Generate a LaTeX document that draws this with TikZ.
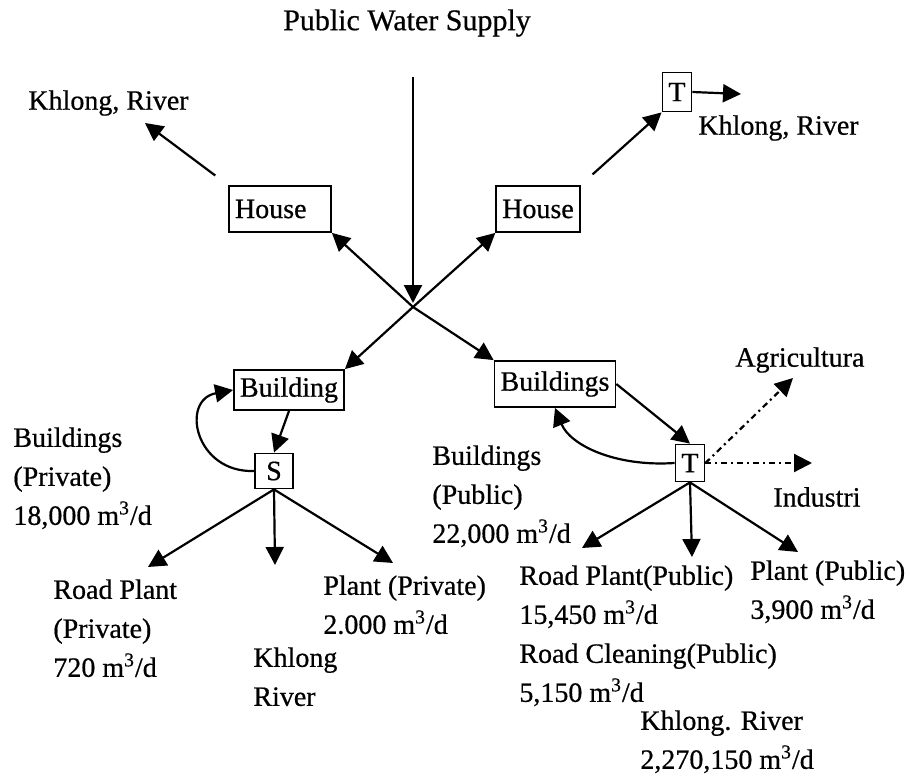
\documentclass[tikz,border=0pt]{standalone}
\usepackage{fontspec}
\setmainfont[FakeBold=0.6]{Liberation Serif}
\usetikzlibrary{positioning,arrows.meta}

\begin{document}
\begin{tikzpicture}
  [x=0.5pt,y=-0.5pt,
   every node/.style={font=\fontsize{14}{19.5}\selectfont},
   box/.style={draw,line width=0.9pt,inner xsep=3pt,inner ysep=0pt},
   lbl/.style={inner sep=0pt,align=left,anchor=north west},
   flow/.style={line width=1.1pt,-{Triangle[length=9pt,width=9pt]}},
   side/.style={flow,dash pattern=on 3pt off 2pt on 1pt off 2pt}]
  \useasboundingbox (0,0) rectangle (911,781);

  \node[font=\fontsize{15}{18}\selectfont] (title) at (407,23) {Public Water Supply};
  \coordinate (top) at (413,77);
  \coordinate (mid) at (413,307);

  \node[box,minimum width=51pt,minimum height=23pt,text width=45pt,align=left] (houseL) at (280,209) {House};
  \node[box,minimum height=23pt] (houseR) at (538,209) {House};
  \node[box,minimum height=20pt] (bldL) at (289,390) {Building};
  \node[box,minimum height=23pt] (bldR) at (555,384) {Buildings};
  \node[box,minimum height=19.5pt] (tTop) at (677,92) {T};
  \node[box,minimum height=17.5pt,minimum width=19pt] (sBox) at (274,471) {S};
  \node[box,minimum height=18.5pt] (tBox) at (690,463) {T};

  \node[inner sep=0pt,anchor=west] (khlongL) at (28,103) {Khlong, River};
  \node[inner sep=0pt,anchor=west] (khlongR) at (698,128) {Khlong, River};
  \node[inner sep=0pt,anchor=west] (agriLbl) at (735,360) {Agricultura};
  \node[inner sep=0pt,anchor=west] (indLbl) at (773,497) {Industri};
  \node[lbl] (privLbl) at (13,427) {Buildings\\(Private)\\18,000 m\textsuperscript{3}/d};
  \node[lbl] (roadPriv) at (53,579) {Road Plant\\(Private)\\720 m\textsuperscript{3}/d};
  \node[lbl] (khlongS) at (253,647) {Khlong\\River};
  \node[lbl] (plantPriv) at (323,575) {Plant (Private)\\2.000 m\textsuperscript{3}/d};
  \node[lbl] (pubLbl) at (432,445) {Buildings\\(Public)\\22,000 m\textsuperscript{3}/d};
  \node[lbl] (roadPub) at (519,565) {Road Plant(Public)\\15,450 m\textsuperscript{3}/d\\Road Cleaning(Public)\\5,150 m\textsuperscript{3}/d};
  \node[lbl] (plantPub) at (750,560) {Plant (Public)\\3,900 m\textsuperscript{3}/d};
  \node[lbl] (khlongPub) at (640,710) {Khlong. River\\2,270,150 m\textsuperscript{3}/d};

  \coordinate (kLtip) at (145,123);
  \coordinate (kRtip) at (741,94);
  \coordinate (s1) at (148,567);
  \coordinate (s2) at (275,565);
  \coordinate (s3) at (393,563);
  \coordinate (t1) at (582,548);
  \coordinate (t2) at (692,557);
  \coordinate (t3) at (798,552);
  \coordinate (agri) at (793,378);
  \coordinate (ind) at (812,463);

  \draw[flow,shorten >=2pt] (top) -- (mid);
  \draw[flow] (mid) -- (houseL.south east);
  \draw[flow] (mid) -- (houseR.south west);
  \draw[flow] (mid) -- (bldL.north east);
  \draw[flow] (mid) -- (bldR.north west);
  \draw[flow,shorten <=8pt] (houseL.north west) -- (kLtip);
  \draw[flow,shorten <=8pt] (houseR.north east) -- (tTop.south west);
  \draw[flow] (tTop.east) -- (kRtip);

  \draw[flow] (bldL.south) -- (sBox.north);
  \draw[flow] (sBox.west) .. controls (195,473) and (180,400) .. (bldL.west);
  \draw[flow] (sBox.south) -- (s1);
  \draw[flow] (sBox.south) -- (s2);
  \draw[flow] (sBox.south) -- (s3);

  \draw[flow] (bldR.east) -- (tBox.north);
  \draw[flow] (tBox.west) .. controls (615,467) and (570,445) .. (bldR.south);
  \draw[side] (tBox.east) -- (agri);
  \draw[side] (tBox.east) -- (ind);
  \draw[flow] (tBox.south) -- (t1);
  \draw[flow] (tBox.south) -- (t2);
  \draw[flow] (tBox.south) -- (t3);
\end{tikzpicture}
\end{document}
